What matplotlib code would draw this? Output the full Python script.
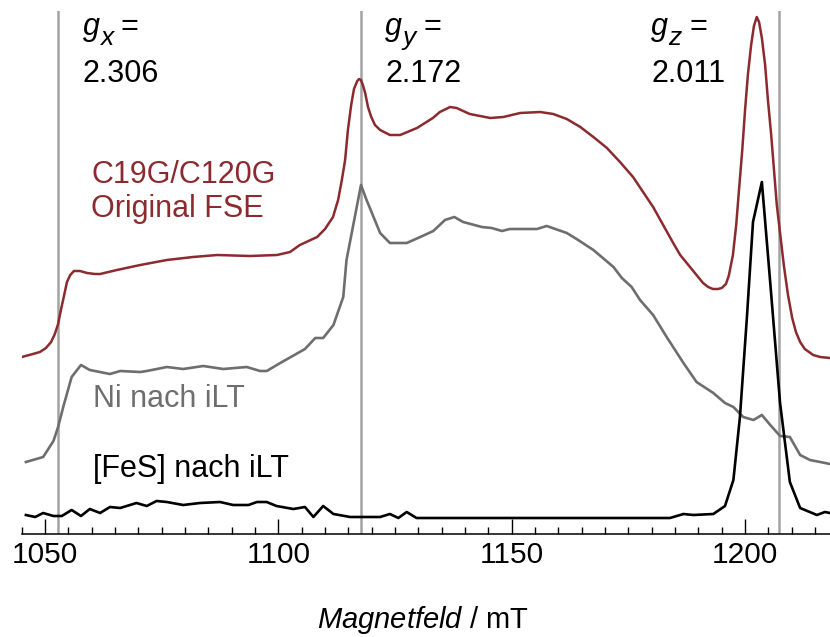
import matplotlib
matplotlib.use("Agg")
import matplotlib.pyplot as plt
import matplotlib.transforms as mtrans
from matplotlib.ticker import MultipleLocator

plt.rcParams['font.family'] = ['Liberation Sans', 'DejaVu Sans']
plt.rcParams['mathtext.fontset'] = 'custom'
plt.rcParams['mathtext.it'] = 'Liberation Sans:italic'
plt.rcParams['mathtext.rm'] = 'Liberation Sans'

# C19G/C120G, original FSE (field in mT, intensity in arb. units incl. offset)
field_fse = [1045.0, 1047.4, 1048.9, 1050.2, 1051.3, 1052.1, 1052.8, 1053.4, 1054.1,
             1054.7, 1055.4, 1056.2, 1057.5, 1059.0, 1060.7, 1061.8, 1065.4, 1070.4,
             1076.1, 1081.7, 1086.9, 1093.9, 1099.7, 1102.5, 1104.6, 1108.3, 1110.0,
             1111.7, 1112.8, 1113.6, 1114.3, 1114.9, 1115.6, 1116.2, 1116.9, 1117.3,
             1117.7, 1118.1, 1118.6, 1119.2, 1119.9, 1120.7, 1121.8, 1123.9, 1126.1,
             1129.7, 1133.1, 1134.6, 1136.8, 1138.2, 1141.0, 1145.4, 1148.2, 1151.8,
             1156.1, 1158.9, 1161.8, 1164.7, 1167.5, 1170.4, 1173.2, 1176.0, 1180.3,
             1184.6, 1186.1, 1188.2, 1191.0, 1192.1, 1193.1, 1194.2, 1195.0, 1195.9,
             1196.5, 1197.4, 1198.1, 1198.7, 1199.4, 1200.0, 1200.6, 1201.3, 1201.9,
             1202.5, 1203.0, 1203.6, 1204.3, 1204.9, 1205.6, 1206.2, 1206.8, 1207.5,
             1208.3, 1209.2, 1210.1, 1210.9, 1211.8, 1212.8, 1214.6, 1216.1, 1218.2]
int_fse = [177, 180, 182, 186, 192, 200, 210, 224, 239,
           252, 259, 263, 263, 261, 260, 260, 264, 269,
           274, 277, 279, 278, 279, 282, 289, 297, 305,
           317, 334, 354, 374, 404, 429, 445, 453, 455,
           454, 449, 441, 427, 417, 409, 404, 399, 399,
           406, 416, 422, 427, 426, 420, 416, 417, 421,
           422, 420, 415, 407, 397, 386, 372, 357, 327,
           291, 279, 267, 251, 247, 245, 245, 246, 250,
           258, 279, 309, 344, 384, 424, 459, 489, 508,
           517, 512, 496, 469, 434, 399, 364, 329, 301,
           269, 239, 216, 202, 192, 185, 179, 177, 176]

# Ni nach iLT
field_ni = [1045.9, 1049.6, 1051.8, 1052.8, 1053.9, 1055.7, 1057.7, 1059.6, 1063.9,
            1066.1, 1070.4, 1071.8, 1076.1, 1079.6, 1083.9, 1088.2, 1093.2, 1096.1,
            1097.5, 1100.4, 1105.7, 1107.9, 1109.6, 1111.8, 1113.9, 1114.6, 1117.7,
            1118.9, 1121.8, 1123.9, 1127.5, 1130.4, 1133.2, 1135.7, 1137.7, 1139.6,
            1143.6, 1145.7, 1147.9, 1149.6, 1155.4, 1157.5, 1161.8, 1163.9, 1167.5,
            1171.8, 1173.6, 1175.7, 1177.5, 1180.3, 1183.2, 1186.8, 1189.6, 1193.2,
            1195.7, 1197.5, 1199.6, 1201.8, 1203.6, 1205.4, 1207.5, 1209.6, 1211.8,
            1213.9, 1216.1, 1218.2]
int_ni = [72, 77, 93, 107, 127, 157, 169, 164, 160,
          163, 162, 163, 167, 165, 168, 165, 167, 163,
          163, 171, 185, 196, 196, 209, 237, 274, 349,
          334, 301, 291, 291, 297, 303, 314, 317, 312,
          307, 306, 303, 305, 305, 308, 301, 295, 284,
          267, 256, 247, 234, 219, 197, 171, 152, 141,
          131, 127, 117, 114, 119, 109, 98, 97, 79,
          74, 72, 70]

# [FeS] nach iLT
field_fes = [1045.9, 1047.9, 1049.6, 1051.8, 1053.6, 1055.7, 1057.7, 1059.6, 1061.8,
             1063.9, 1066.1, 1069.6, 1071.8, 1073.9, 1076.1, 1079.6, 1083.2, 1087.5,
             1090.3, 1093.6, 1095.4, 1097.5, 1099.6, 1103.2, 1105.7, 1107.5, 1109.6,
             1111.8, 1115.4, 1117.9, 1121.8, 1123.9, 1125.7, 1127.5, 1129.6, 1183.9,
             1186.8, 1188.9, 1193.2, 1195.7, 1197.5, 1198.9, 1200.4, 1201.7, 1203.6,
             1205.4, 1207.5, 1209.6, 1211.8, 1215.4, 1217.1, 1218.2]
int_fes = [19, 17, 21, 18, 18, 24, 18, 25, 21,
           27, 26, 31, 28, 33, 32, 29, 31, 32,
           29, 29, 32, 32, 28, 25, 27, 17, 28,
           20, 17, 17, 17, 20, 16, 22, 16, 16,
           20, 19, 20, 28, 54, 117, 217, 312, 352,
           251, 131, 52, 26, 19, 22, 21]

g_labels = ['x', 'y', 'z']
g_values = [2.306, 2.172, 2.011]
mw_freq = 33.98  # GHz
h_over_muB = 71.4477  # mT/GHz
g_text_x = [1058.1, 1122.9, 1179.9]

red = '#8b2a2f'
grey = '#6e6e6e'
fs = 22

fig = plt.figure(figsize=(8.3, 6.37), dpi=100)
ax = fig.add_axes([21.7 / 830, 103 / 637, (830 - 21.7) / 830, 523 / 637])

for g in g_values:
    ax.axvline(h_over_muB * mw_freq / g, color='#a3a3a3', lw=1.8, zorder=1)

ax.plot(field_ni, int_ni, color=grey, lw=1.9, zorder=2)
ax.plot(field_fes, int_fes, color='black', lw=1.9, zorder=3)
ax.plot(field_fse, int_fse, color=red, lw=1.8, zorder=4)

def shifted(dx, dy):
    return mtrans.offset_copy(ax.transData, fig=fig, x=dx, y=dy, units='dots')

for lab, g, xt in zip(g_labels, g_values, g_text_x):
    ax.text(xt, 499, 'g', fontsize=fs, style='italic', va='baseline')
    ax.text(xt, 499, lab, fontsize=19, style='italic', va='baseline',
            transform=shifted(17, -10))
    ax.text(xt, 499, '=', fontsize=fs, va='baseline', transform=shifted(38, 0))
    ax.text(xt, 452, '%.3f' % g, fontsize=fs, va='baseline')

ax.text(1059.9, 351, 'C19G/C120G', color=red, fontsize=fs, va='baseline')
ax.text(1059.9, 317, 'Original FSE', color=red, fontsize=fs, va='baseline')
ax.text(1060.2, 127, 'Ni nach iLT', color=grey, fontsize=fs, va='baseline')
ax.text(1060.2, 57, '[FeS] nach iLT', color='black', fontsize=fs, va='baseline')

ax.set_xlim(1045, 1218.2)
ax.set_ylim(0, 523)
for s in ['left', 'right', 'top']:
    ax.spines[s].set_visible(False)
ax.spines['bottom'].set_linewidth(1.1)
ax.set_yticks([])
ax.xaxis.set_major_locator(MultipleLocator(50))
ax.xaxis.set_minor_locator(MultipleLocator(5))
ax.tick_params(axis='x', which='major', direction='in', length=10.5, width=1.0,
               labelsize=21.5, pad=5)
ax.tick_params(axis='x', which='minor', direction='in', length=4.8, width=1.0)
ax.patch.set_alpha(0)

fig.text(423 / 830, 9 / 637, r'$Magnetfeld$ / mT', fontsize=21, ha='center', va='baseline')

fig.savefig('out.png', dpi=100)
